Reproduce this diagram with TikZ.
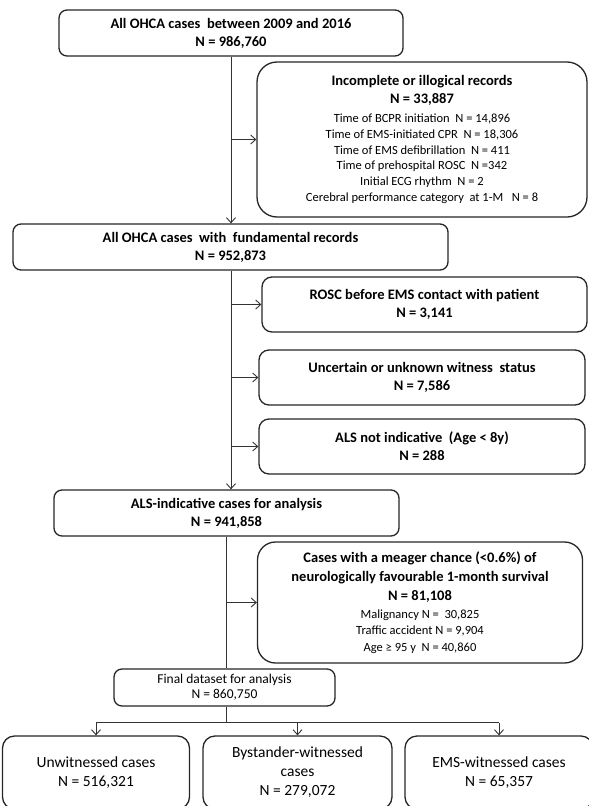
\documentclass[tikz,border=0pt]{standalone}
\usepackage{fontspec}
\setmainfont{Carlito}
\usetikzlibrary{arrows.meta}
\newcommand{\ttlfont}{\bfseries\fontsize{14.5}{18}\selectfont}
\newcommand{\bodyfont}{\fontsize{12.5}{15.8}\selectfont}

\begin{document}
\begin{tikzpicture}[x=1pt,y=-1pt,
box/.style={draw=black!85,line width=1.3pt,rounded corners=8pt,fill=white,align=center,inner sep=0pt},
link/.style={draw=black!80,line width=0.9pt},
arr/.style={link,-{Straight Barb[length=5pt,width=9pt]}}]

\clip (0,0) rectangle (589,806);

\node[box,minimum width=344pt,minimum height=46pt,font=\ttlfont] (top) at (231,33)
  {All OHCA cases\ \ between 2009 and 2016\\N = 986,760};
\node[box,minimum width=330pt,minimum height=155pt,rounded corners=20pt,font=\bodyfont] (incomplete) at (422,139.5)
  {{\ttlfont Incomplete or illogical records}\\[2.2pt]{\ttlfont N = 33,887}\\[3pt]
   Time of BCPR initiation\ \ N = 14,896\\Time of EMS-initiated CPR\ \ N = 18,306\\
   Time of EMS defibrillation\ \ N = 411\\Time of prehospital ROSC\ \ N =342\\
   Initial ECG rhythm\ \ N = 2\\Cerebral performance category\ \ at 1-M\ \ \ N = 8};
\node[box,minimum width=435pt,minimum height=46pt,font=\ttlfont] (fundamental) at (230.5,247)
  {All OHCA cases\ \ with\ \ fundamental records\\N = 952,873};
\node[box,minimum width=325pt,minimum height=55pt,rounded corners=10pt,font=\ttlfont] (rosc) at (424.5,304.5)
  {ROSC before EMS contact with patient\\N = 3,141};
\node[box,minimum width=326pt,minimum height=55pt,rounded corners=10pt,font=\ttlfont] (witness) at (422,377.5)
  {Uncertain or unknown witness\ \ status\\N = 7,586};
\node[box,minimum width=326pt,minimum height=55pt,rounded corners=10pt,font=\ttlfont] (alsnot) at (422,446.5)
  {ALS not indicative\ \ (Age < 8y)\\N = 288};
\node[box,minimum width=345pt,minimum height=46pt,font=\ttlfont] (alsind) at (226.5,513)
  {ALS-indicative cases for analysis\\N = 941,858};
\node[box,minimum width=325pt,minimum height=121pt,rounded corners=18pt,font=\fontsize{12.5}{16.5}\selectfont] (meager) at (420,602.5)
  {{\ttlfont Cases with a meager chance (<0.6\%) of}\\[2.5pt]
   {\ttlfont neurologically favourable 1-month survival}\\[2.5pt]
   {\ttlfont N = 81,108}\\[1.5pt]
   Malignancy N =\ \ 30,825\\Traffic accident N = 9,904\\Age ≥ 95 y\ \ N = 40,860};
\node[box,minimum width=221pt,minimum height=37pt,font=\fontsize{13.5}{15}\selectfont] (final) at (224.5,687.5)
  {Final dataset for analysis\\N = 860,750};
\node[box,minimum width=187pt,minimum height=73pt,rounded corners=12pt,font=\fontsize{15.5}{19}\selectfont] (unwit) at (96,772.5)
  {Unwitnessed cases\\N = 516,321};
\node[box,minimum width=189pt,minimum height=73pt,rounded corners=12pt,font=\fontsize{15.5}{19}\selectfont] (bystander) at (297.5,772.5)
  {Bystander-witnessed\\cases\\N = 279,072};
\node[box,minimum width=188pt,minimum height=73pt,rounded corners=12pt,font=\fontsize{15.5}{19}\selectfont] (emswit) at (499,772.5)
  {EMS-witnessed cases\\N = 65,357};

% main trunk
\draw[arr] (top) -- (top |- fundamental.north);
\draw[arr] (top |- incomplete.west) -- (incomplete.west);
\draw[arr] (fundamental.south -| top) -- (alsind.north -| top);
\draw[arr] (top |- rosc.west) -- (rosc.west);
\draw[arr] (top |- witness.west) -- (witness.west);
\draw[arr] (top |- alsnot.west) -- (alsnot.west);
\draw[link] (alsind) -- (alsind.south |- final.north);
\draw[arr] (alsind.south |- meager.west) -- (meager.west);
% split into groups
\draw[link] (final.south -| alsind.south) -- ++(0,16) coordinate (split);
\draw[link] (split -| unwit.north) -- (split -| emswit.north);
\draw[arr] (split -| unwit.north) -- (unwit.north);
\draw[arr] (split -| bystander.north) -- (bystander.north);
\draw[arr] (split -| emswit.north) -- (emswit.north);

\end{tikzpicture}
\end{document}
